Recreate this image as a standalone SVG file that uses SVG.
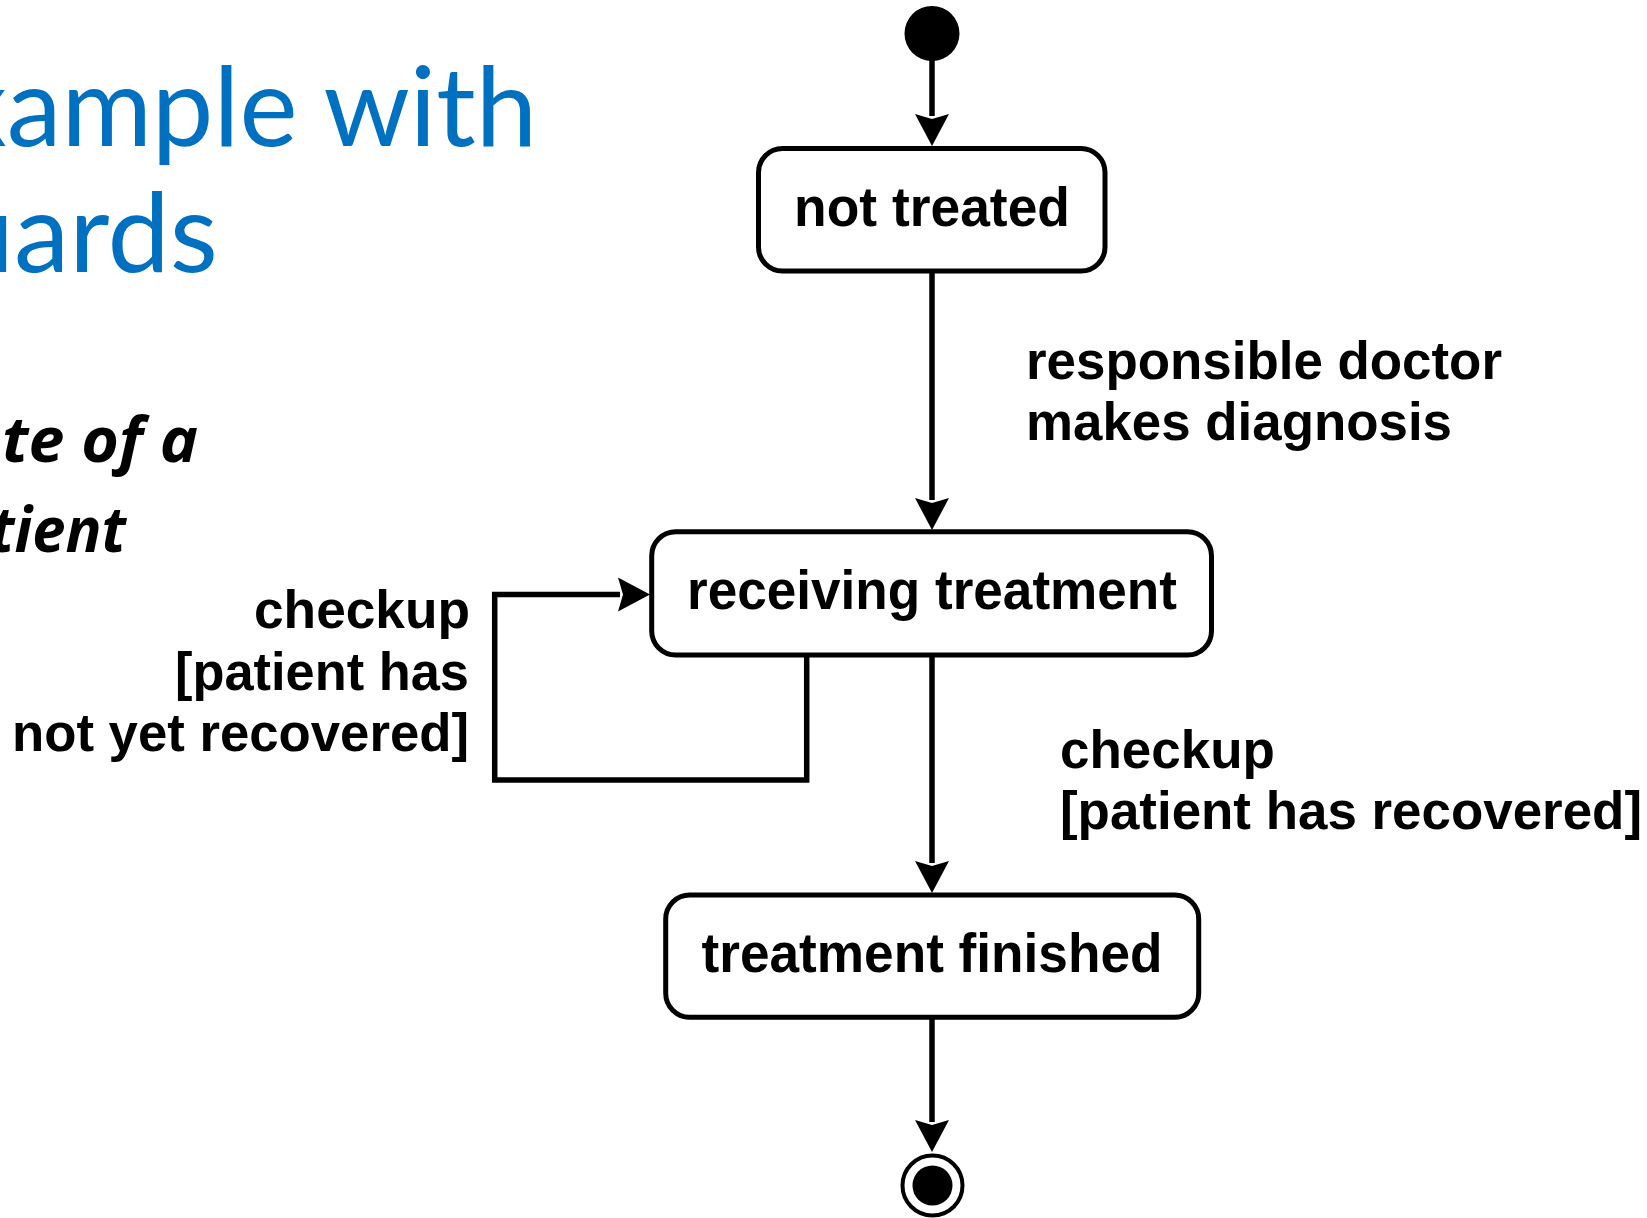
<svg xmlns="http://www.w3.org/2000/svg" width="1647" height="1218" viewBox="0 0 1647 1218">
<defs>
<style>
.title{font-family:Lato,"Open Sans","Noto Sans",sans-serif;font-size:110px;fill:#0070C0}
.sub{font-family:"Open Sans",Lato,sans-serif;font-size:62px;font-weight:bold;font-style:italic;fill:#000}
.lbl{font-family:"Liberation Sans",Arial,sans-serif;font-size:54px;font-weight:bold;fill:#000}
.st{font-family:"Liberation Sans",Arial,sans-serif;font-size:55px;font-weight:bold;fill:#000;text-anchor:middle}
.box{fill:#fff;stroke:#000;stroke-width:5}
.conn{fill:none;stroke:#000;stroke-width:5.5}
</style>
<marker id="arr" viewBox="-34 -18 36 36" refX="-30" refY="0" markerWidth="36" markerHeight="36" markerUnits="userSpaceOnUse" orient="auto">
<path d="M0,0 L-32,-17 L-27,0 L-32,17 Z" fill="#000"/>
</marker>
</defs>
<rect width="1647" height="1218" fill="#fff"/>

<g id="title">
<text class="title" x="-48" y="146" textLength="585" lengthAdjust="spacingAndGlyphs">xample with</text>
<text class="title" x="-48" y="272" textLength="266" lengthAdjust="spacingAndGlyphs">uards</text>
<text class="sub" x="2" y="462" textLength="196" lengthAdjust="spacingAndGlyphs">te of a</text>
<text class="sub" x="-10" y="552" textLength="136" lengthAdjust="spacingAndGlyphs">tient</text>
</g>

<g id="connectors">
<path class="conn" d="M932 60 V116" marker-end="url(#arr)"/>
<path class="conn" d="M932 273 V500" marker-end="url(#arr)"/>
<path class="conn" d="M932 657 V863" marker-end="url(#arr)"/>
<path class="conn" d="M932 1019 V1122" marker-end="url(#arr)"/>
<path class="conn" d="M806.7 657 V780 H494.7 V594.5 H620" marker-end="url(#arr)"/>
<text class="lbl" x="1026" y="379" textLength="476" lengthAdjust="spacingAndGlyphs">responsible doctor</text>
<text class="lbl" x="1026" y="440" textLength="426" lengthAdjust="spacingAndGlyphs">makes diagnosis</text>
<text class="lbl" x="1060" y="768" textLength="215" lengthAdjust="spacingAndGlyphs">checkup</text>
<text class="lbl" x="1060" y="829" textLength="582" lengthAdjust="spacingAndGlyphs">[patient has recovered]</text>
<text class="lbl" x="254" y="628" textLength="216" lengthAdjust="spacingAndGlyphs">checkup</text>
<text class="lbl" x="175" y="690" textLength="294" lengthAdjust="spacingAndGlyphs">[patient has</text>
<text class="lbl" x="12" y="751" textLength="457" lengthAdjust="spacingAndGlyphs">not yet recovered]</text>
</g>

<g id="initial">
<circle cx="932" cy="33.5" r="27.5" fill="#000"/>
</g>

<g id="not-treated">
<rect class="box" x="758.5" y="148.5" width="346.5" height="122.5" rx="24"/>
<text class="st" x="932" y="226" textLength="276" lengthAdjust="spacingAndGlyphs">not treated</text>
</g>

<g id="receiving-treatment">
<rect class="box" x="651.7" y="531.7" width="559.8" height="123.3" rx="24"/>
<text class="st" x="932" y="609" textLength="490" lengthAdjust="spacingAndGlyphs">receiving treatment</text>
</g>

<g id="treatment-finished">
<rect class="box" x="665.7" y="895" width="533" height="122.3" rx="24"/>
<text class="st" x="932" y="972" textLength="461" lengthAdjust="spacingAndGlyphs">treatment finished</text>
</g>

<g id="final">
<circle cx="932.5" cy="1185.5" r="30" fill="#fff" stroke="#000" stroke-width="4"/>
<circle cx="932.5" cy="1185.5" r="20" fill="#000"/>
</g>
</svg>
